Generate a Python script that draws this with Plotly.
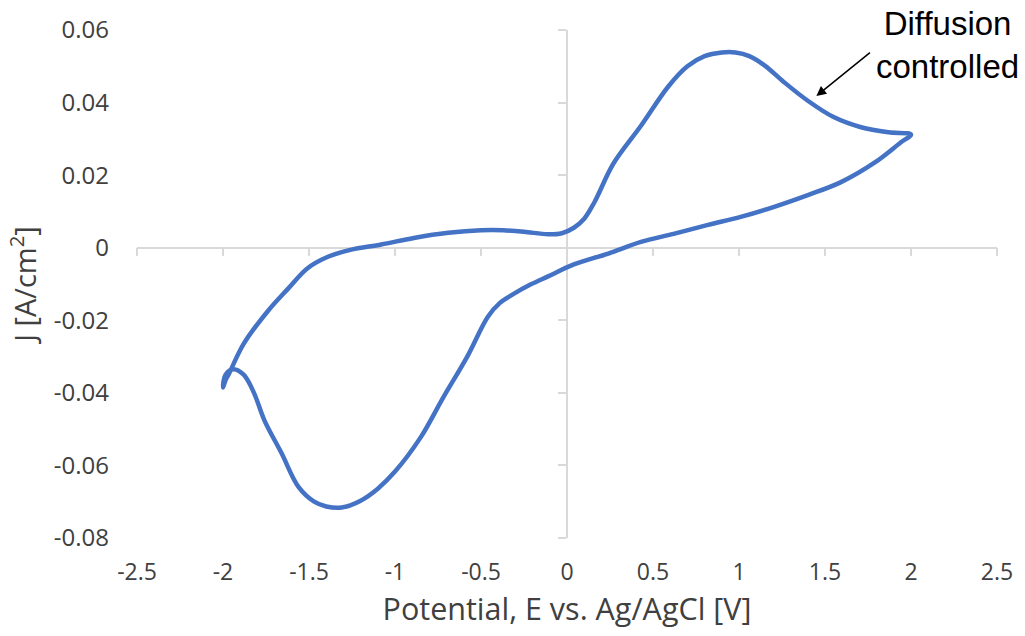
import plotly.graph_objects as go

# Cyclic voltammogram
# Anodic (forward) branch: from -2 V up to +2 V
E_forward = [-2.00, -1.985, -1.965, -1.88, -1.74, -1.62, -1.51, -1.39, -1.26, -1.08,
             -0.89, -0.69, -0.50, -0.37, -0.25, -0.11, -0.03, 0.04, 0.10, 0.16, 0.27,
             0.43, 0.59, 0.70, 0.80, 0.90, 0.98, 1.06, 1.15, 1.26, 1.40, 1.55, 1.71, 1.87, 2.00]
J_forward = [-0.0385, -0.0365, -0.0347, -0.0265, -0.0175, -0.0112, -0.0057, -0.0025, -0.0006, 0.0009,
             0.0027, 0.0041, 0.0048, 0.0048, 0.0044, 0.0037, 0.0040, 0.0055, 0.0080, 0.0126, 0.0232,
             0.0336, 0.0445, 0.0500, 0.0528, 0.0538, 0.0538, 0.0528, 0.0502, 0.0457, 0.0405, 0.0360, 0.0332, 0.0318, 0.0312]

# Cathodic (reverse) branch: from +2 V back to -2 V
E_reverse = [2.00, 1.94, 1.79, 1.59, 1.40, 1.20, 1.01, 0.82, 0.62, 0.43, 0.24, 0.04,
             -0.11, -0.21, -0.32, -0.39, -0.46, -0.58, -0.72, -0.85, -1.00, -1.10, -1.20,
             -1.31, -1.40, -1.47, -1.56, -1.66, -1.76, -1.82, -1.88, -1.94, -1.985, -2.00]
J_reverse = [0.0312, 0.0290, 0.0235, 0.0180, 0.0145, 0.0112, 0.0085, 0.0063, 0.0038, 0.0016, -0.0016, -0.0046,
             -0.0079, -0.0101, -0.0130, -0.0152, -0.0190, -0.0300, -0.0413, -0.0522, -0.0617, -0.0664, -0.0697,
             -0.0716, -0.0713, -0.0700, -0.0660, -0.0566, -0.0475, -0.0400, -0.0350, -0.0335, -0.0350, -0.0385]

x_ticks = [-2.5, -2, -1.5, -1, -0.5, 0, 0.5, 1, 1.5, 2, 2.5]
x_tick_labels = ["-2.5", "-2", "-1.5", "-1", "-0.5", "0", "0.5", "1", "1.5", "2", "2.5"]
y_ticks = [-0.08, -0.06, -0.04, -0.02, 0, 0.02, 0.04, 0.06]
y_tick_labels = ["-0.08", "-0.06", "-0.04", "-0.02", "0", "0.02", "0.04", "0.06"]

E_all = E_forward + E_reverse[1:]
J_all = J_forward + J_reverse[1:]

X_RANGE = [-2.5, 2.5]
Y_RANGE = [-0.08, 0.06]

LINE_BLUE = "#4472C4"
AXIS_GRAY = "#D9D9D9"
TEXT = "#404040"
FONT = "Open Sans"

MARGIN_T, MARGIN_B = 26, 98
PLOT_H = 636 - MARGIN_T - MARGIN_B

fig = go.Figure()
fig.add_trace(go.Scatter(x=E_all, y=J_all, mode="lines",
                         line=dict(color=LINE_BLUE, width=4.5, shape="spline", smoothing=1.0),
                         showlegend=False, hoverinfo="skip"))
# invisible helper trace so the crossing axes are drawn
fig.add_trace(go.Scatter(x=E_all, y=J_all, mode="lines", xaxis="x2", yaxis="y2",
                         line=dict(width=0), opacity=0, showlegend=False, hoverinfo="skip"))

y0_frac = (0 - Y_RANGE[0]) / (Y_RANGE[1] - Y_RANGE[0])
x0_frac = (0 - X_RANGE[0]) / (X_RANGE[1] - X_RANGE[0])

fig.update_layout(
    width=1025, height=636,
    paper_bgcolor="white", plot_bgcolor="white",
    margin=dict(l=137, r=28, t=MARGIN_T, b=MARGIN_B),
    font=dict(family=FONT, color=TEXT),
    xaxis=dict(range=X_RANGE, tickvals=x_ticks, ticktext=x_tick_labels,
               showgrid=False, zeroline=False, showline=False, ticks="",
               tickfont=dict(size=23, color=TEXT, family=FONT), ticklabelstandoff=18,
               title=dict(text="Potential, E vs. Ag/AgCl [V]", font=dict(size=30.5, color=TEXT, family=FONT),
                          standoff=0)),
    yaxis=dict(range=Y_RANGE, tickvals=y_ticks, ticktext=y_tick_labels,
               showgrid=False, zeroline=False, showline=False, ticks="",
               tickfont=dict(size=24, color=TEXT, family=FONT), ticklabelstandoff=27,
               title=dict(text="J [A/cm<sup>2</sup>]", font=dict(size=29, color=TEXT, family=FONT),
                          standoff=8)),
    xaxis2=dict(range=X_RANGE, overlaying="x", anchor="free", position=y0_frac,
                tickvals=x_ticks, showticklabels=False, showgrid=False, zeroline=False,
                showline=True, linecolor=AXIS_GRAY, linewidth=1.5, layer="below traces",
                ticks="outside", ticklen=8, tickwidth=1.5, tickcolor=AXIS_GRAY),
    yaxis2=dict(range=Y_RANGE, overlaying="y", anchor="free", position=x0_frac,
                tickvals=y_ticks, showticklabels=False, showgrid=False, zeroline=False,
                showline=True, linecolor=AXIS_GRAY, linewidth=1.5, layer="below traces",
                ticks="outside", ticklen=8, tickwidth=1.5, tickcolor=AXIS_GRAY),
)

fig.add_annotation(xref="paper", yref="paper", x=(947 - 137) / (997 - 137), y=1 + MARGIN_T / PLOT_H,
                   text="Diffusion<br>controlled", showarrow=False, borderpad=0,
                   font=dict(family="Liberation Sans", size=33, color="#000000"),
                   align="center", xanchor="center", yanchor="top")
fig.add_annotation(x=1.45, y=0.0418, ax=1.77, ay=0.0541, xref="x", yref="y", axref="x", ayref="y",
                   text="", showarrow=True, arrowhead=2, arrowsize=1.3, arrowwidth=1.5,
                   arrowcolor="#000000")

fig.write_html("out.html", config={"displayModeBar": False},
               post_script="document.body.style.margin='0px';")
